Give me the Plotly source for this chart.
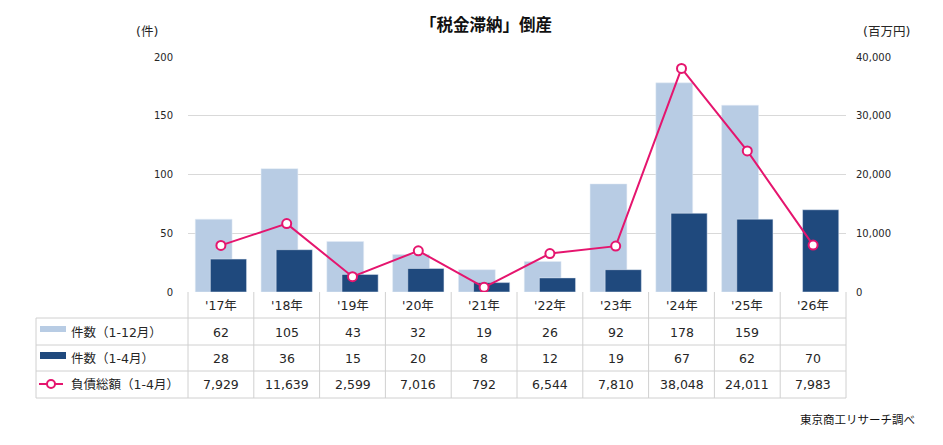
import plotly.graph_objects as go

# data
years = ["'17年", "'18年", "'19年", "'20年", "'21年", "'22年", "'23年", "'24年", "'25年", "'26年"]
count_full = [62, 105, 43, 32, 19, 26, 92, 178, 159, None]
count_jan_apr = [28, 36, 15, 20, 8, 12, 19, 67, 62, 70]
debt_jan_apr = [7929, 11639, 2599, 7016, 792, 6544, 7810, 38048, 24011, 7983]
row_labels = ["件数（1-12月）", "件数（1-4月）", "負債総額（1-4月）"]

LIGHT = "#B8CCE4"
DARK = "#1F497D"
PINK = "#E5156E"
GRID = "#D9D9D9"
LINE = "#D0D0D0"
TXT = "#262626"
FONT = "DejaVu Sans, Noto Sans CJK JP"

# the page body adds 8px around the figure, so the figure is made 8px smaller
W, H = 943, 445
BODY = 8
PL, PR, PT, PB = 188, 846, 57, 292
x = list(range(len(years)))


def py(p):
    # pixel row (reference) -> paper y
    return (PB - p) / (PB - PT)


def px(p):
    return (p - PL) / (PR - PL)


fig = go.Figure()
fig.add_trace(go.Bar(x=x, y=count_full, name=row_labels[0], marker_color=LIGHT,
                     width=0.56, offset=-0.39, hoverinfo="y"))
fig.add_trace(go.Bar(x=x, y=count_jan_apr, name=row_labels[1], marker_color=DARK,
                     width=0.55, offset=-0.16, hoverinfo="y"))
fig.add_trace(go.Scatter(x=x, y=debt_jan_apr, name=row_labels[2], yaxis="y2",
                         mode="lines+markers", line=dict(color=PINK, width=2),
                         marker=dict(size=9, color="white", line=dict(color=PINK, width=2))))

shapes = []
annotations = []

# table grid
rows_y = [318, 345, 371, 398]
for ry in rows_y:
    shapes.append(dict(type="line", xref="paper", yref="paper", x0=px(36), x1=1,
                       y0=py(ry), y1=py(ry), line=dict(color=LINE, width=1)))
shapes.append(dict(type="line", xref="paper", yref="paper", x0=px(36), x1=px(36),
                   y0=py(318), y1=py(398), line=dict(color=LINE, width=1)))
for i in range(len(years) + 1):
    shapes.append(dict(type="line", xref="paper", yref="paper", x0=i / len(years), x1=i / len(years),
                       y0=py(292), y1=py(398), line=dict(color=LINE, width=1)))

# legend keys
shapes.append(dict(type="rect", xref="paper", yref="paper", x0=px(40), x1=px(66),
                   y0=py(326), y1=py(332), fillcolor=LIGHT, line=dict(width=0)))
shapes.append(dict(type="rect", xref="paper", yref="paper", x0=px(40), x1=px(66),
                   y0=py(352), y1=py(359), fillcolor=DARK, line=dict(width=0)))
shapes.append(dict(type="line", xref="paper", yref="paper", x0=px(39), x1=px(63),
                   y0=py(384), y1=py(384), line=dict(color=PINK, width=2)))
shapes.append(dict(type="circle", xref="paper", yref="paper", x0=px(47), x1=px(55),
                   y0=py(380), y1=py(388), fillcolor="white", line=dict(color=PINK, width=2)))

row_centers = [332, 358, 384]
for label, cy in zip(row_labels, row_centers):
    annotations.append(dict(text=label, xref="paper", yref="paper", x=px(69), y=py(cy),
                            xanchor="left", yanchor="middle", showarrow=False,
                            font=dict(size=12.5, color=TXT)))

for series, cy in zip([count_full, count_jan_apr, debt_jan_apr], row_centers):
    for i, v in enumerate(series):
        if v is None:
            continue
        annotations.append(dict(text=f"{v:,}", xref="x", yref="paper", x=i, y=py(cy),
                                xanchor="center", yanchor="middle", showarrow=False,
                                font=dict(size=12.5, color=TXT)))

for i, yr in enumerate(years):
    annotations.append(dict(text=yr, xref="x", yref="paper", x=i, y=py(305),
                            xanchor="center", yanchor="middle", showarrow=False,
                            font=dict(size=12.5, color=TXT)))

annotations += [
    dict(text="<b>「税金滞納」倒産</b>", xref="paper", yref="paper", x=px(486), y=py(24),
         xanchor="center", yanchor="middle", showarrow=False,
         font=dict(family="Noto Sans CJK JP", size=16.5, color="#111")),
    dict(text="(件)", xref="paper", yref="paper", x=px(160), y=py(32),
         xanchor="right", yanchor="middle", showarrow=False, font=dict(size=12.5, color=TXT)),
    dict(text="(百万円)", xref="paper", yref="paper", x=px(861), y=py(32),
         xanchor="left", yanchor="middle", showarrow=False, font=dict(size=12.5, color=TXT)),
    dict(text="東京商工リサーチ調べ", xref="paper", yref="paper", x=px(917), y=py(419),
         xanchor="right", yanchor="middle", showarrow=False,
         font=dict(family="Noto Sans CJK JP", size=11.5, color="#111")),
]

fig.update_layout(
    width=W - BODY, height=H - BODY,
    margin=dict(l=PL - BODY, r=W - PR, t=PT - BODY, b=H - PB, pad=0),
    plot_bgcolor="white", paper_bgcolor="white",
    font=dict(family=FONT, size=10, color=TXT),
    showlegend=False,
    barmode="overlay",
    xaxis=dict(range=[-0.5, len(years) - 0.5], showticklabels=False, showgrid=False,
               zeroline=False, showline=False, fixedrange=True),
    yaxis=dict(range=[0, 200], dtick=50, showgrid=True, gridcolor=GRID, gridwidth=1,
               zeroline=False, showline=False, ticks="outside", ticklen=12,
               tickcolor="rgba(0,0,0,0)", tickfont=dict(size=10, color=TXT)),
    yaxis2=dict(range=[0, 40000], dtick=10000, tickformat=",", overlaying="y", side="right",
                showgrid=False, zeroline=False, showline=False, ticks="outside", ticklen=7,
                tickcolor="rgba(0,0,0,0)", tickfont=dict(size=10, color=TXT)),
    shapes=shapes,
    annotations=annotations,
)

fig.write_html("out.html")
